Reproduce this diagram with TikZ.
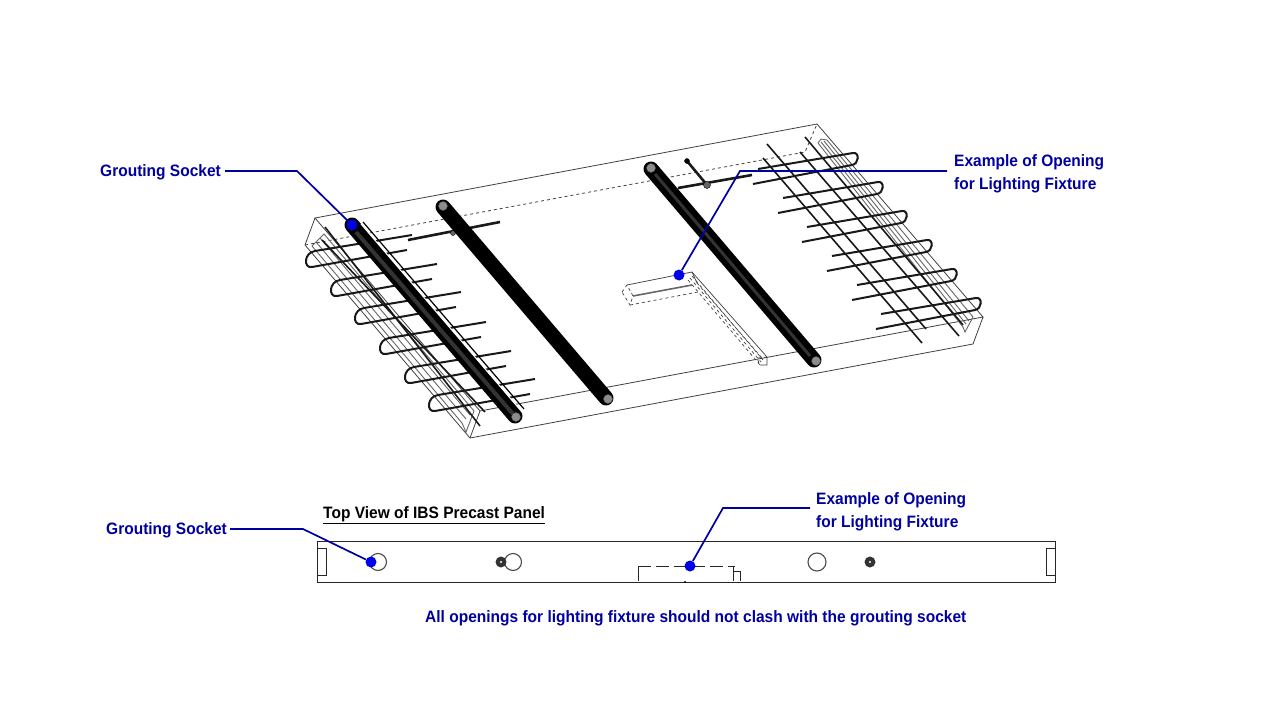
\documentclass[tikz,border=0pt]{standalone}
\usepackage{fontspec}
\setmainfont[FakeStretch=0.94]{Liberation Sans}
\usetikzlibrary{calc}
\definecolor{leaderblue}{RGB}{0,0,160}
\definecolor{dotblue}{RGB}{0,0,230}
\tikzset{
	slab/.style={black!75, line width=0.8pt},
	thinbar/.style={black!60, line width=0.9pt},
	rebar/.style={black!90, line width=2pt},
	socket/.style={black, line width=15pt, line cap=round},
	leader/.style={leaderblue, line width=1.7pt},
	dot/.style={circle, fill=dotblue, inner sep=0pt, minimum size=11pt},
	label/.style={leaderblue, inner sep=0pt, font=\fontsize{16.5}{23}\selectfont\bfseries, align=left}
}
\def\hairpinleft(#1,#2){\draw[rebar, shift={(#1,#2)}] (105,-26) -- (8,-10) .. controls (-3,-8.5) and (-4,7.5) .. (5,6) -- (100,-11);}
\def\hairpinright(#1,#2){\draw[rebar, shift={(#1,#2)}] (-99,11) -- (-4,-5) .. controls (3,-6) and (2,6) .. (-5,7) -- (-104,26);}
\def\socketend(#1,#2){\draw[fill=black!45, draw=black!70] (#1,#2) circle (4.5);}

\begin{document}
\begin{tikzpicture}[x=1pt, y=-1pt]
	\useasboundingbox (0,0) rectangle (1280,720);

	\draw[slab] (315,218) -- (817,124) -- (983,317) -- (480,411) -- cycle;
	\draw[slab] (315,218) -- (305,245) -- (470,438) -- (973,344) -- (983,317);
	\draw[slab] (480,411) -- (470,438);
	\draw[slab, dashed] (305,245) -- (805,152) -- (817,124);

	\draw[thinbar] (324,234) -- (474,411);
	\draw[thinbar] (320,238) -- (470,415);
	\draw[thinbar] (316,242) -- (466,419);
	\draw[thinbar] (312,246) -- (462,423);
	\draw[thinbar] (324,234) -- (312,246);
	\draw[thinbar] (462,423) -- (466,432) -- (474,411);
	\draw[thinbar] (818,143) -- (963,327);
	\draw[thinbar] (821,142) -- (966,324);
	\draw[thinbar] (824,141) -- (969,321);
	\draw[thinbar] (827,140) -- (973,317);
	\draw[thinbar] (818,143) -- (821,139) -- (827,140);
	\draw[thinbar] (963,327) -- (965,332) -- (973,317);

	\hairpinleft(307,261)
	\hairpinleft(332,290)
	\hairpinleft(356,318)
	\hairpinleft(381,348)
	\hairpinleft(406,377)
	\hairpinleft(430,405)
	\draw[rebar, line width=1.6pt] (325,227) -- (480,426);
	\draw[rebar, line width=1.6pt] (322,240) -- (485,412);

	\hairpinright(857,158)
	\hairpinright(882,187)
	\hairpinright(906,216)
	\hairpinright(931,245)
	\hairpinright(956,274)
	\hairpinright(980,303)
	\draw[rebar, line width=1.6pt] (767,144) -- (926,329);
	\draw[rebar, line width=1.6pt] (763,158) -- (922,343);
	\draw[rebar, line width=1.6pt] (805,137) -- (963,325);
	\draw[rebar, line width=1.6pt] (800,152) -- (959,336);

	\draw[rebar, line width=2.6pt] (408,240) -- (500,222);
	\draw[rebar, line width=2.6pt] (678,188) -- (752,175);
	\draw[rebar, line width=2.6pt] (687,161) -- (707,185);
	\draw[fill=black!60, draw=black] (453,233) circle (2.5);
	\draw[fill=black!60, draw=black] (707,185) circle (3.5);
	\draw[fill=black] (687,161) circle (2.5);

	\draw[slab, line width=0.7pt, dashed] (622,292) -- (627,285) -- (633,296) -- (630,305) -- cycle;
	\draw[slab, line width=0.7pt] (627,285) -- (692,272) -- (697,283);
	\draw[black!60, line width=1.6pt] (633,296) -- (692,285);
	\draw[slab, line width=0.7pt, dashed] (630,305) -- (698,292);
	\draw[slab, line width=0.7pt] (692,272) -- (767,357) -- (767,365) -- (760,365);
	\draw[slab, line width=0.7pt, dashed] (697,283) -- (762,358);
	\draw[slab, line width=0.7pt, dashed] (692,276) -- (763,360);
	\draw[slab, line width=0.7pt, dashed] (690,278) -- (761,362);
	\draw[slab, line width=0.7pt, dashed] (688,280) -- (760,365) -- (757,358) -- (767,357);

	\draw[socket] (352,225) -- (515,416);
	\draw[black!80, line width=4pt] (356,232) -- (513,414);
	\draw[white, line width=1pt] (361,224) -- (522,412);
	\draw[black, line width=1.2pt] (363,222) -- (524,409);
	\socketend(516,417)
	\draw[socket] (443,207) -- (606,398);
	\socketend(443,206)
	\socketend(608,399)
	\draw[socket] (651,169) -- (814,360);
	\draw[black!80, line width=3pt] (655,174) -- (810,356);
	\socketend(651,168)
	\socketend(816,361)

	\draw[black!85, line width=1pt] (317,541) rectangle (1055,582);
	\draw[black!85, line width=0.8pt] (317,548) rectangle (326,575);
	\draw[black!85, line width=0.8pt] (1046,548) rectangle (1055,575);
	\draw[black!70, line width=1.1pt, fill=white] (378,562) circle (8.5);
	\draw[black!70, line width=1.1pt, fill=white] (513,562) circle (8.5);
	\draw[black!70, line width=1.1pt, fill=white] (817,562) circle (9);
	\draw[fill=black!80, draw=none] (501,562) circle (5.5);
	\draw[fill=white, draw=none] (501,562) circle (1.2);
	\draw[fill=black!80, draw=none] (870,562) circle (5.5);
	\draw[fill=white, draw=none] (870,562) circle (1.2);
	\draw[black!85, line width=0.9pt, dash pattern=on 13pt off 5pt] (638,566) -- (735,566);
	\draw[black!85, line width=0.9pt] (638,566) -- (638,581);
	\draw[black!85, line width=0.9pt] (733,567) -- (733,581);
	\draw[black!85, line width=0.9pt] (733,571) -- (740,571) -- (740,581);
	\draw[fill=black, draw=none] (685,582) circle (1.2);

	\node[label, anchor=west] (socketlabel) at (100,172) {Grouting Socket};
	\node[label, anchor=west] (openinglabel) at (954,173.5) {Example of Opening\\for Lighting Fixture};
	\node[label, anchor=west] (socketlabelb) at (106,530) {Grouting Socket};
	\node[label, anchor=west] (openinglabelb) at (816,511.5) {Example of Opening\\for Lighting Fixture};
	\node[label, anchor=west] (note) at (425,618) {All openings for lighting fixture should not clash with the grouting socket};
	\node[inner sep=0pt, anchor=west, font=\fontsize{16.5}{23}\selectfont\bfseries] (title) at (323,515) {\underline{Top View of IBS Precast Panel}};

	\node[dot] (socketdot) at (352,225) {};
	\node[dot] (openingdot) at (679,275) {};
	\node[dot] (socketdotb) at (371,562) {};
	\node[dot] (openingdotb) at (690,566) {};
	\coordinate (socketstart) at (225,171);
	\coordinate (socketbend) at (297,171);
	\coordinate (openingstart) at (947,171);
	\coordinate (openingbend) at (740,171);
	\coordinate (socketstartb) at (230,529);
	\coordinate (socketbendb) at (303,529);
	\coordinate (openingstartb) at (810,508);
	\coordinate (openingbendb) at (723,508);

	\draw[leader] (socketstart) -- (socketbend) -- (socketdot);
	\draw[leader] (openingstart) -- (openingbend) -- (openingdot);
	\draw[leader] (socketstartb) -- (socketbendb) -- (socketdotb);
	\draw[leader] (openingstartb) -- (openingbendb) -- (openingdotb);
\end{tikzpicture}
\end{document}
